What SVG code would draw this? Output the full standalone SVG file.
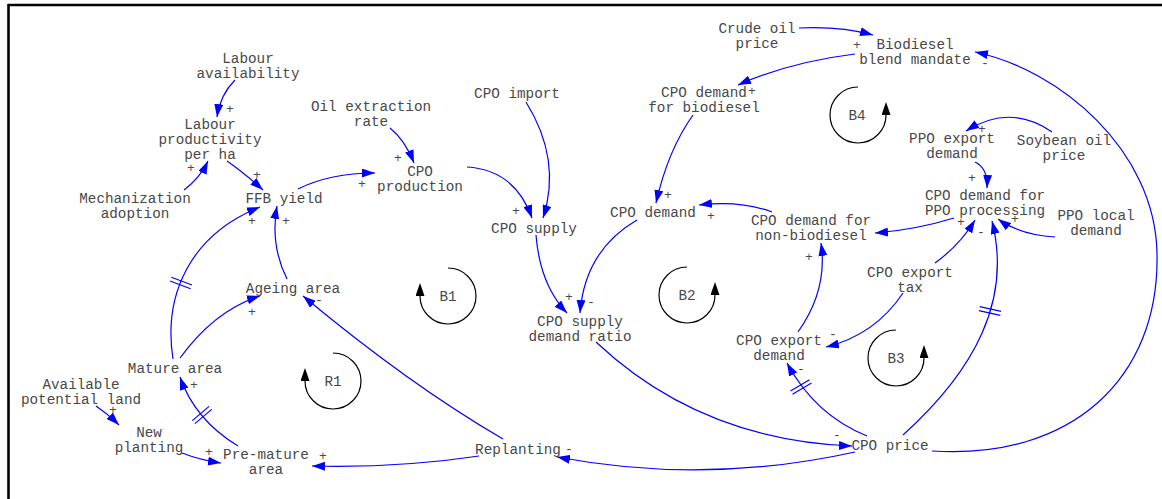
<svg xmlns="http://www.w3.org/2000/svg" width="1162" height="499" viewBox="0 0 1162 499">
<style>
text{font-family:"Liberation Mono","Courier New",monospace;font-size:14.3px;fill:#484848;text-anchor:middle}
.s text{font-size:13px}
.c{fill:none;stroke:#0000ff;stroke-width:1.2;marker-end:url(#a)}
.d{stroke:#0000ff;stroke-width:1.2}
.l{fill:none;stroke:#000;stroke-width:1.2;marker-end:url(#b)}
.f{stroke:#000;stroke-width:2.6}
</style>
<defs>
<marker id="a" markerUnits="userSpaceOnUse" markerWidth="13" markerHeight="9" viewBox="0 0 13 9" refX="13" refY="4.5" orient="auto"><path d="M0,0L13,4.5L0,9z" fill="#0000ff"/></marker>
<marker id="b" markerUnits="userSpaceOnUse" markerWidth="13" markerHeight="9" viewBox="0 0 13 9" refX="0" refY="4.5" orient="auto"><path d="M0,0L13,4.5L0,9z" fill="#000"/></marker>
</defs>
<rect width="1162" height="499" fill="#fff"/>
<line class="f" x1="8" y1="5" x2="1162" y2="5"/>
<line class="f" x1="8.5" y1="4" x2="8.5" y2="499"/>

<g id="connectors">
<path class="c" d="M235,80 Q220,95 217,117"/>
<path class="c" d="M184,190 Q200,178 208,161"/>
<path class="c" d="M227,161 Q243,172 263,190"/>
<path class="c" d="M298,189 Q330,173 375,173"/>
<path class="c" d="M390,128 Q405,140 414,163"/>
<path class="c" d="M467,167 Q515,170 532,218"/>
<path class="c" d="M526,102 Q562,160 543,218"/>
<path class="c" d="M799,28 Q840,26 873,35"/>
<path class="c" d="M855,54 Q790,62 738,85"/>
<path class="c" d="M693,115 Q668,150 656,203"/>
<path class="c" d="M772,212 Q740,200 699,205"/>
<path class="c" d="M637,220 Q585,250 580,313"/>
<path class="c" d="M536,235 Q540,285 567,313"/>
<path class="c" d="M596,342 Q700,440 852,446"/>
<path class="c" d="M855,452 Q706,485 557,457"/>
<path class="c" d="M503,439 Q410,385 303,296"/>
<path class="c" d="M479,456 Q400,468 312,466"/>
<path class="c" d="M287,279 Q270,245 277,206"/>
<path class="c" d="M173,359 C163,295 190,235 260,207"/>
<path class="c" d="M180,358 Q215,310 260,296"/>
<path class="c" d="M238,446 Q195,420 180,377"/>
<path class="c" d="M96,406 Q108,414 119,425"/>
<path class="c" d="M182,453 Q200,460 221,463"/>
<path class="c" d="M867,436 Q815,415 787,363"/>
<path class="c" d="M903,293 Q875,335 826,347"/>
<path class="c" d="M798,332 Q828,290 821,243"/>
<path class="c" d="M935,263 Q960,245 975,220"/>
<path class="c" d="M903,435 C975,370 1012,300 992,221"/>
<path class="c" d="M1055,237 Q1020,235 998,219"/>
<path class="c" d="M954,218 Q915,230 875,233"/>
<path class="c" d="M975,162 Q988,168 987,188"/>
<path class="c" d="M1052,132 Q1010,103 966,131"/>
<path class="c" d="M932,451 C1070,460 1160,380 1157,253 C1155,150 1060,70 975,52"/>
<line class="d" x1="171.4" y1="277.2" x2="192" y2="285"/>
<line class="d" x1="170" y1="281" x2="190.6" y2="288.8"/>
<line class="d" x1="192.3" y1="420.6" x2="209.1" y2="406.4"/>
<line class="d" x1="194.9" y1="423.6" x2="211.7" y2="409.4"/>
<line class="d" x1="790.5" y1="390.9" x2="809.5" y2="379.7"/>
<line class="d" x1="792.5" y1="394.3" x2="811.5" y2="383.1"/>
<line class="d" x1="979.7" y1="306.6" x2="1001.1" y2="311.4"/>
<line class="d" x1="978.9" y1="310.6" x2="1000.3" y2="315.4"/>
</g>

<g id="signs" class="s">
<text x="230" y="112.5">+</text>
<text x="191" y="171.5">+</text>
<text x="257" y="178.5">+</text>
<text x="362" y="187.5">+</text>
<text x="398" y="161.5">+</text>
<text x="516" y="214.5">+</text>
<text x="857" y="48.5">+</text>
<text x="752" y="94.5">+</text>
<text x="668" y="198.5">+</text>
<text x="711" y="219.5">+</text>
<text x="591" y="305.5">-</text>
<text x="569" y="300.5">+</text>
<text x="837" y="438.5">-</text>
<text x="569" y="452.5">-</text>
<text x="319" y="304">-</text>
<text x="323" y="459.5">+</text>
<text x="286" y="224.5">+</text>
<text x="252" y="224.5">+</text>
<text x="252" y="315.5">+</text>
<text x="194" y="388.5">+</text>
<text x="113" y="413.5">+</text>
<text x="209" y="455.5">+</text>
<text x="801" y="372.5">-</text>
<text x="833" y="337.5">-</text>
<text x="809" y="260.5">+</text>
<text x="981" y="236">-</text>
<text x="1015" y="223">+</text>
<text x="961" y="225.5">+</text>
<text x="972" y="181.5">+</text>
<text x="982" y="133">+</text>
<text x="985" y="66.5">-</text>
</g>

<g id="loops">
<g id="loop-B1"><path class="l" d="M448,268 A28,28 0 1 1 420,296"/><text x="448" y="300.5">B1</text></g>
<g id="loop-B2"><path class="l" d="M687,267 A28,28 0 1 0 715,295"/><text x="687" y="299.5">B2</text></g>
<g id="loop-B3"><path class="l" d="M896,330 A28,28 0 1 0 924,358"/><text x="896" y="362.5">B3</text></g>
<g id="loop-B4"><path class="l" d="M858,87 A28,28 0 1 0 886,115"/><text x="857" y="119.5">B4</text></g>
<g id="loop-R1"><path class="l" d="M333,353 A28,28 0 1 1 305,381"/><text x="333" y="385.5">R1</text></g>
</g>

<g id="labour-availability"><text x="248" y="62.5">Labour</text><text x="248" y="77.5">availability</text></g>
<g id="labour-productivity"><text x="210" y="128.5">Labour</text><text x="210" y="143.5">productivity</text><text x="210" y="158.5">per ha</text></g>
<g id="mechanization"><text x="135" y="202.5">Mechanization</text><text x="135" y="217.5">adoption</text></g>
<g id="ffb-yield"><text x="284" y="202.5">FFB yield</text></g>
<g id="oil-extraction"><text x="371" y="111">Oil extraction</text><text x="371" y="126">rate</text></g>
<g id="cpo-production"><text x="420" y="176">CPO</text><text x="420" y="191">production</text></g>
<g id="cpo-import"><text x="517" y="97.5">CPO import</text></g>
<g id="cpo-supply"><text x="534" y="232.5">CPO supply</text></g>
<g id="cpo-demand"><text x="653" y="216.5">CPO demand</text></g>
<g id="cpo-demand-biodiesel"><text x="704" y="96.5">CPO demand</text><text x="704" y="111.5">for biodiesel</text></g>
<g id="crude-oil-price"><text x="757" y="32.5">Crude oil</text><text x="757" y="47.5">price</text></g>
<g id="biodiesel-mandate"><text x="915" y="48.5">Biodiesel</text><text x="915" y="63.5">blend mandate</text></g>
<g id="ppo-export-demand"><text x="952" y="142.5">PPO export</text><text x="952" y="157.5">demand</text></g>
<g id="soybean-oil-price"><text x="1064" y="144.5">Soybean oil</text><text x="1064" y="159.5">price</text></g>
<g id="cpo-demand-ppo"><text x="985" y="199.5">CPO demand for</text><text x="985" y="214.5">PPO processing</text></g>
<g id="ppo-local-demand"><text x="1096" y="219.5">PPO local</text><text x="1096" y="234.5">demand</text></g>
<g id="cpo-demand-nonbio"><text x="811" y="224.5">CPO demand for</text><text x="811" y="239.5">non-biodiesel</text></g>
<g id="cpo-export-tax"><text x="910" y="276.5">CPO export</text><text x="910" y="291.5">tax</text></g>
<g id="cpo-export-demand"><text x="779" y="344.5">CPO export</text><text x="779" y="359.5">demand</text></g>
<g id="cpo-price"><text x="890" y="449.5">CPO price</text></g>
<g id="replanting"><text x="518" y="453.5">Replanting</text></g>
<g id="supply-demand-ratio"><text x="580" y="325.5">CPO supply</text><text x="580" y="340.5">demand ratio</text></g>
<g id="ageing-area"><text x="293" y="292.5">Ageing area</text></g>
<g id="mature-area"><text x="175" y="372.5">Mature area</text></g>
<g id="available-land"><text x="81" y="388.5">Available</text><text x="81" y="403.5">potential land</text></g>
<g id="new-planting"><text x="149" y="436.5">New</text><text x="149" y="451.5">planting</text></g>
<g id="premature-area"><text x="266" y="458.5">Pre-mature</text><text x="266" y="473.5">area</text></g>
</svg>
